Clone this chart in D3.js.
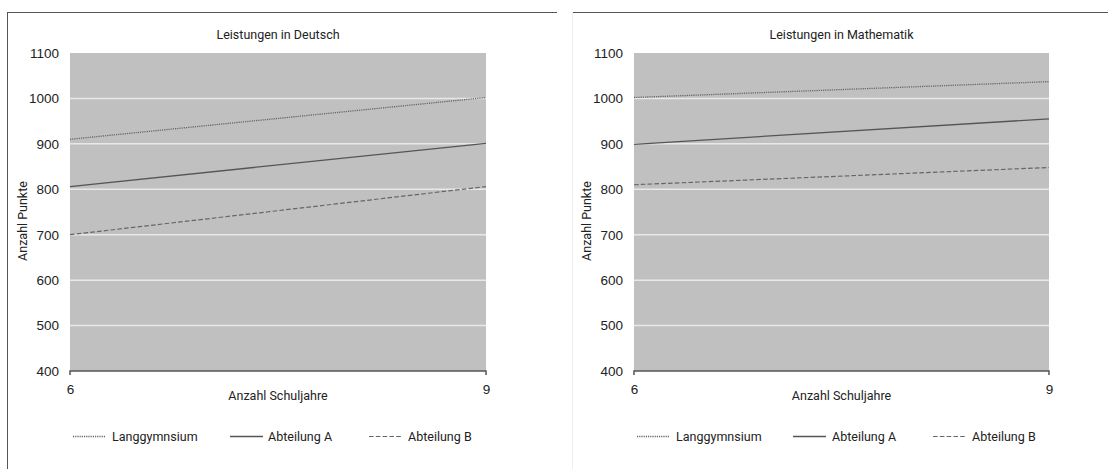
<!DOCTYPE html>
<html><head><meta charset="utf-8">
<script src="https://cdn.jsdelivr.net/npm/d3@7"></script>
<style>
body{margin:0;background:#fff;}
svg{display:block;}
text{font-family:Roboto,"Liberation Sans",sans-serif;fill:#222;}
</style></head>
<body>
<svg id="c" width="1108" height="469"></svg>
<script>
const years = [6, 9];
const yTicks = [400, 500, 600, 700, 800, 900, 1000, 1100];
const seriesNames = ["Langgymnsium", "Abteilung A", "Abteilung B"];
const deutschLang = [910, 1002];
const deutschA = [806, 901];
const deutschB = [700, 806];
const matheLang = [1002, 1037];
const matheA = [899, 955];
const matheB = [810, 848];
const titles = ["Leistungen in Deutsch", "Leistungen in Mathematik"];
const xTitle = "Anzahl Schuljahre";
const yTitle = "Anzahl Punkte";

const svg = d3.select("#c");
const dashes = ["1.2,1", null, "4.6,2.2"];
const colors = ["#666", "#555", "#666"];
const widths = [1.3, 1.3, 1.2];

// panel frames
svg.append("line").attr("x1",7).attr("x2",557).attr("y1",12.5).attr("y2",12.5).attr("stroke","#555").attr("stroke-width",1);
svg.append("line").attr("x1",7.5).attr("x2",7.5).attr("y1",12).attr("y2",469).attr("stroke","#555").attr("stroke-width",1);
svg.append("line").attr("x1",572).attr("x2",1108).attr("y1",12.5).attr("y2",12.5).attr("stroke","#555").attr("stroke-width",1);
svg.append("line").attr("x1",572.5).attr("x2",572.5).attr("y1",12).attr("y2",469).attr("stroke","#eee").attr("stroke-width",1);

const panels = [
  {x0:70, x1:486, data:[deutschLang, deutschA, deutschB], title:titles[0], yt:27, leg:[[73,106,112],[230,263,268],[369,402,408]]},
  {x0:634, x1:1049, data:[matheLang, matheA, matheB], title:titles[1], yt:591, leg:[[637,669,676],[793,826,832],[933,965,972]]}
];
const plotTop = 53, plotBot = 371;

panels.forEach(p => {
  const g = svg.append("g");
  const x = d3.scaleLinear().domain([6, 9]).range([p.x0, p.x1]);
  const y = d3.scaleLinear().domain([400, 1100]).range([plotBot, plotTop]);
  g.append("rect").attr("x",p.x0).attr("y",plotTop).attr("width",p.x1-p.x0).attr("height",plotBot-plotTop).attr("fill","#c0c0c0");
  g.selectAll(".grid").data(yTicks.filter(t => t>400 && t<1100)).join("line")
    .attr("x1",p.x0).attr("x2",p.x1).attr("y1",d=>y(d)).attr("y2",d=>y(d))
    .attr("stroke","#e8e8e8").attr("stroke-width",1.5);
  const ya = d3.axisLeft(y).tickValues(yTicks).tickSize(0).tickPadding(11).tickFormat(d3.format("d"));
  const yg = g.append("g").attr("transform",`translate(${p.x0},0)`).call(ya);
  yg.select(".domain").remove();
  yg.selectAll("text").attr("font-size",13.5).style("font-family","inherit").attr("fill","#222");
  const xa = d3.axisBottom(x).tickValues(years).tickSize(4).tickPadding(9).tickFormat(d3.format("d"));
  const xg = g.append("g").attr("transform",`translate(0,${plotBot})`).call(xa);
  xg.select(".domain").attr("stroke","#555").attr("stroke-width",1.5).attr("d",`M${p.x0},4V0H${p.x1}V4`);
  xg.selectAll(".tick line").remove();
  xg.selectAll("text").attr("font-size",13.5).style("font-family","inherit").attr("fill","#222");
  const line = d3.line().x((d,i)=>x(years[i])).y(d=>y(d));
  p.data.forEach((s, i) => {
    g.append("path").datum(s).attr("d", line).attr("fill","none")
      .attr("stroke", colors[i]).attr("stroke-width", widths[i])
      .attr("stroke-dasharray", dashes[i]);
  });
  g.append("text").attr("x",(p.x0+p.x1)/2).attr("y",39).attr("text-anchor","middle").attr("font-size",12.5).text(p.title);
  g.append("text").attr("x",(p.x0+p.x1)/2).attr("y",400).attr("text-anchor","middle").attr("font-size",12.5).text(xTitle);
  g.append("text").attr("transform",`translate(${p.yt},${221}) rotate(-90)`).attr("text-anchor","middle").attr("font-size",12.5).text(yTitle);
  p.leg.forEach((l, i) => {
    g.append("line").attr("x1",l[0]).attr("x2",l[1]).attr("y1",436.5).attr("y2",436.5)
      .attr("stroke", colors[i]).attr("stroke-width", widths[i]).attr("stroke-dasharray", dashes[i]);
    g.append("text").attr("x",l[2]).attr("y",441).attr("font-size",12.5).text(seriesNames[i]);
  });
});
</script>
</body></html>
